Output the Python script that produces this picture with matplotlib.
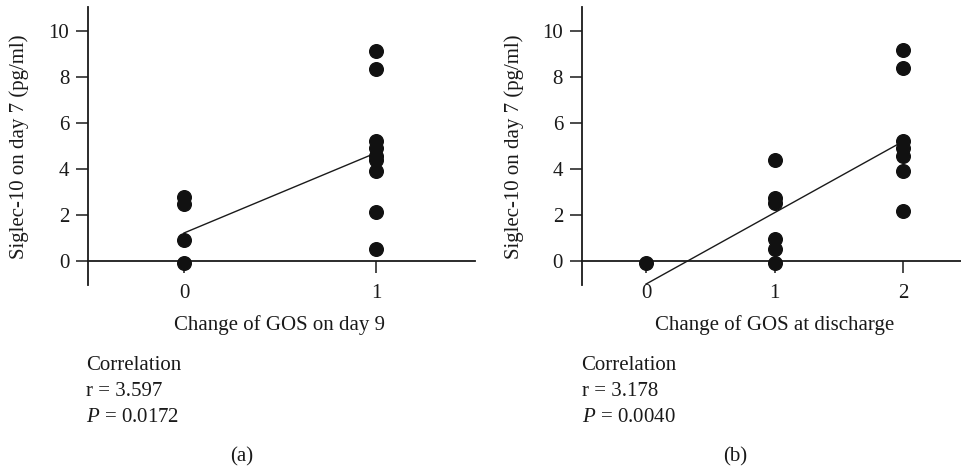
import matplotlib.pyplot as plt

# ---- data ----
a_x_ticks = [0, 1]
a_group0 = [2.77, 2.49, 0.90, -0.09]
a_group1 = [9.13, 8.35, 5.20, 4.91, 4.55, 4.41, 3.90, 2.14, 0.51]
a_line_x = [0, 1]
a_line_y = [1.22, 4.70]

b_x_ticks = [0, 1, 2]
b_group0 = [-0.09]
b_group1 = [4.38, 2.74, 2.51, 0.94, 0.51, -0.09]
b_group2 = [9.16, 8.39, 5.20, 4.91, 4.57, 3.91, 2.16]
b_line_x = [0, 2]
b_line_y = [-1.0, 5.2]

y_ticks = [0, 2, 4, 6, 8, 10]
ylabel = "Siglec-10 on day 7 (pg/ml)"
xlabel_a = "Change of GOS on day 9"
xlabel_b = "Change of GOS at discharge"
stats_a = ["Correlation", "r = 3.597", "$\\mathit{P}$ = 0.0172"]
stats_b = ["Correlation", "r = 3.178", "$\\mathit{P}$ = 0.0040"]

plt.rcParams['font.family'] = ['Liberation Serif', 'DejaVu Serif']
plt.rcParams['mathtext.fontset'] = 'custom'
plt.rcParams['mathtext.it'] = 'Liberation Serif:italic'
plt.rcParams['mathtext.rm'] = 'Liberation Serif'

W, H = 961, 472
fig = plt.figure(figsize=(W / 100, H / 100), dpi=100)

def fx(px):
    return px / W

def fy(py):
    return 1 - py / H

FS = 15
MS = 9.8
INK = '#1a1a1a'

def style(ax, xlim, xticks):
    ax.set_xlim(*xlim)
    ax.set_ylim(-1.04, 11.04)
    for s in ['top', 'right']:
        ax.spines[s].set_visible(False)
    ax.spines['bottom'].set_position(('data', 0))
    ax.spines['left'].set_linewidth(1.3)
    ax.spines['bottom'].set_linewidth(1.3)
    ax.spines['left'].set_color(INK)
    ax.spines['bottom'].set_color(INK)
    ax.set_yticks(y_ticks)
    ax.set_xticks(xticks)
    ax.tick_params(axis='both', direction='out', length=8.5, width=1.1,
                   labelsize=FS, color=INK, labelcolor=INK)
    ax.tick_params(axis='y', pad=5)
    ax.tick_params(axis='x', pad=8)
    ax.patch.set_alpha(0)

# Panel (a)
l_a, r_a = 88, 475
top, bot = 7, 285
ax1 = fig.add_axes([fx(l_a), fy(bot), fx(r_a - l_a), (bot - top) / H])
style(ax1, (-0.5, 1.516), a_x_ticks)
ax1.plot(a_line_x, a_line_y, color=INK, lw=1.0, zorder=2)
ax1.plot([0] * len(a_group0), a_group0, 'o', color='#111111', ms=MS, zorder=3, clip_on=False)
ax1.plot([1] * len(a_group1), a_group1, 'o', color='#111111', ms=MS, zorder=3, clip_on=False)

# Panel (b)
l_b, r_b = 581.75, 967.25
ax2 = fig.add_axes([fx(l_b), fy(bot), fx(r_b - l_b), (bot - top) / H])
style(ax2, (-0.5, 2.5), b_x_ticks)
ax2.plot(b_line_x, b_line_y, color=INK, lw=1.0, zorder=2, clip_on=False)
ax2.plot([0] * len(b_group0), b_group0, 'o', color='#111111', ms=MS, zorder=3, clip_on=False)
ax2.plot([1] * len(b_group1), b_group1, 'o', color='#111111', ms=MS, zorder=3, clip_on=False)
ax2.plot([2] * len(b_group2), b_group2, 'o', color='#111111', ms=MS, zorder=3, clip_on=False)

# y labels
fig.text(fx(19), fy(147), ylabel, rotation=90, ha='center', va='center', fontsize=FS, color=INK)
fig.text(fx(514), fy(147), ylabel, rotation=90, ha='center', va='center', fontsize=FS, color=INK)

# x labels
fig.text(fx(280), fy(325), xlabel_a, ha='center', va='center', fontsize=FS, color=INK)
fig.text(fx(775), fy(325), xlabel_b, ha='center', va='center', fontsize=FS, color=INK)

# stats
for x0, lines in [(86.5, stats_a), (581.5, stats_b)]:
    for yy, t in zip([365, 391.5, 418], lines):
        fig.text(fx(x0), fy(yy), t, ha='left', va='center', fontsize=FS, color=INK)

fig.text(fx(242), fy(457), "(a)", ha='center', va='center', fontsize=FS, color=INK)
fig.text(fx(735), fy(457), "(b)", ha='center', va='center', fontsize=FS, color=INK)

fig.savefig('out.png', dpi=100)
